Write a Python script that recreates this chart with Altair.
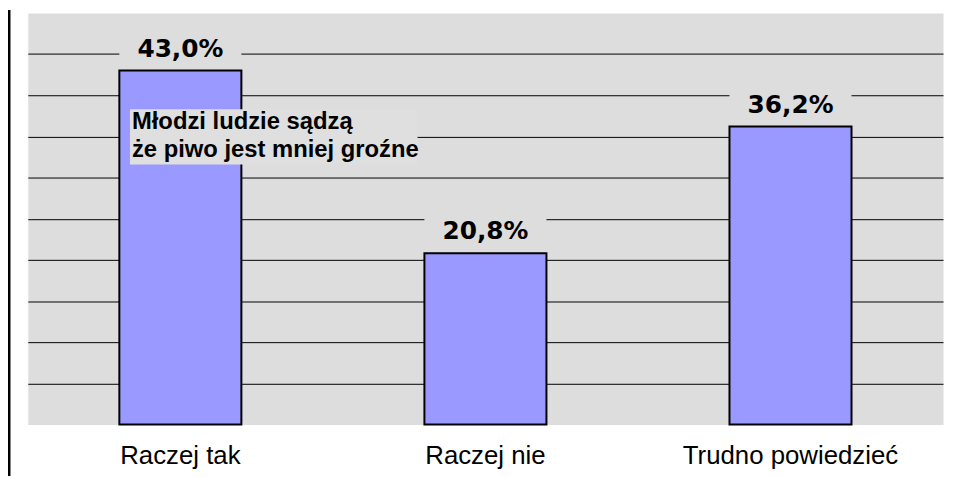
import altair as alt
import pandas as pd

categories = ["Raczej tak", "Raczej nie", "Trudno powiedzieć"]
values = [43.0, 20.8, 36.2]
labels = ["43,0%", "20,8%", "36,2%"]
grid_values = [5, 10, 15, 20, 25, 30, 35, 40, 45]
note_text = ["Młodzi ludzie sądzą", "że piwo jest mniej groźne"]

df = pd.DataFrame({"cat": categories, "val": values, "lab": labels})
df["lo"] = df["val"] + 1.0
df["hi"] = df["val"] + 5.0

note = pd.DataFrame({"t": ["\n".join(note_text)], "y": [35.9], "y0": [31.6], "y1": [38.3]})

xenc = alt.X(
    "cat:N",
    sort=categories,
    scale=alt.Scale(paddingInner=0.6, paddingOuter=0.3),
    axis=alt.Axis(
        title=None, labelAngle=0, labelFontSize=26, labelFont="Liberation Sans",
        labelColor="black", ticks=False, domain=False, labelPadding=18, labelLimit=500,
    ),
)
yscale = alt.Scale(domain=[0, 50], nice=False, zero=True)
yaxis = alt.Axis(
    title=None, values=grid_values, grid=True, gridColor="black", gridWidth=1,
    labels=False, ticks=False, domain=False,
)

base = alt.Chart(df)

bars = base.mark_bar(color="#9999FF", stroke="black", strokeWidth=2).encode(
    x=xenc, y=alt.Y("val:Q", scale=yscale, axis=yaxis)
)

label_bg = base.mark_bar(color="#DDDDDD").encode(
    x=alt.X("cat:N", sort=categories), y="lo:Q", y2="hi:Q"
)

label_txt = base.mark_text(
    font="DejaVu Sans", fontWeight="bold", fontSize=25, color="black",
    baseline="middle", dy=-22,
).encode(x=alt.X("cat:N", sort=categories), y="val:Q", text="lab:N")

nchart = alt.Chart(note)
note_bg = nchart.mark_rect(color="#DFDFDF").encode(
    x=alt.value(103), x2=alt.value(393), y="y0:Q", y2="y1:Q"
)
note_txt = nchart.mark_text(
    font="Liberation Sans", fontWeight="bold", fontSize=24, color="black",
    align="left", baseline="alphabetic", lineBreak="\n", lineHeight=28,
).encode(x=alt.value(105), y="y:Q", text="t:N")

left_rule = nchart.mark_rule(color="black", strokeWidth=3).encode(
    x=alt.value(-19), y=alt.value(-3), y2=alt.value(470)
)

chart = alt.layer(bars, label_bg, label_txt, note_bg, note_txt, left_rule).properties(
    width=923, height=415,
    background="white",
    autosize=alt.AutoSizeParams(type="none"),
    padding={"left": 20, "top": 3, "right": 3, "bottom": 50},
).configure_view(fill="#DDDDDD", stroke="transparent")

chart.save("out.html", embed_options={"renderer": "svg", "actions": False})
